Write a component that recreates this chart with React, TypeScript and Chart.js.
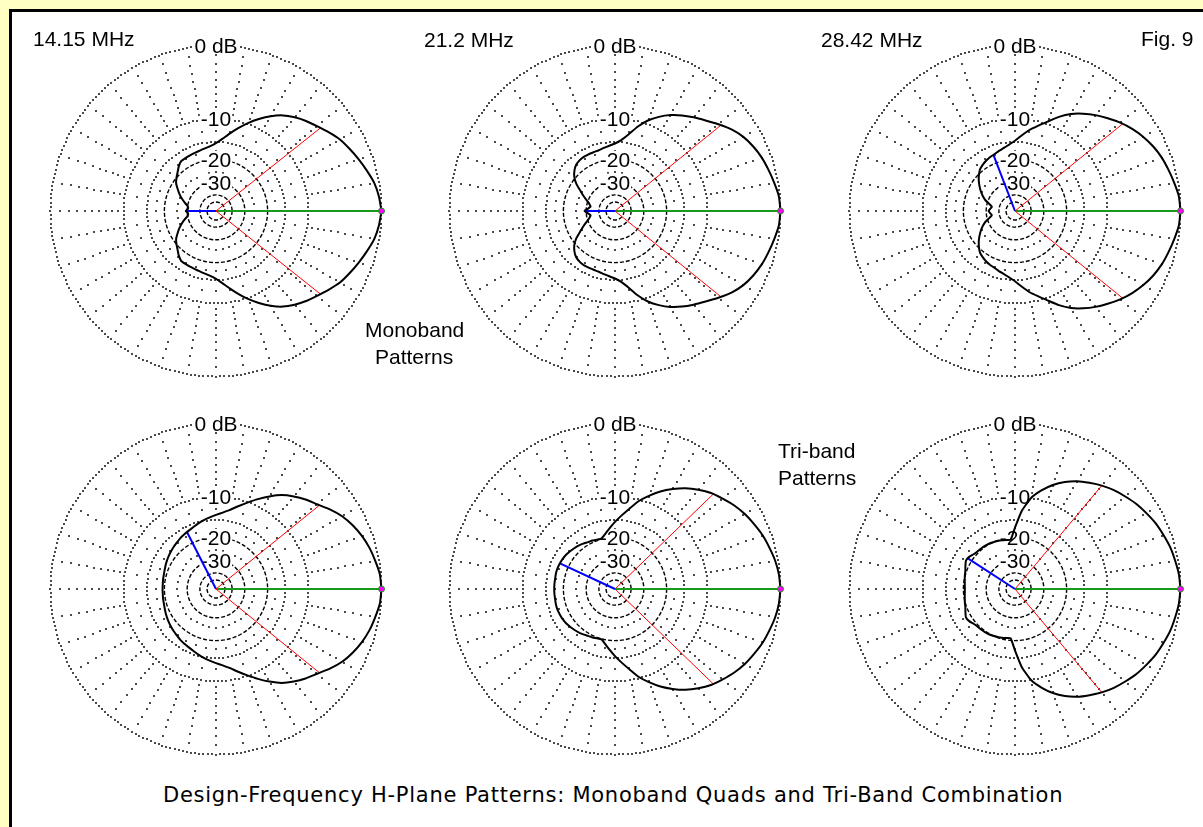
import React, { useEffect, useRef } from "react";
import { Chart, registerables } from "chart.js";

Chart.register(...registerables);

// ---------- data ----------
const angleDeg = [0, 5, 10, 15, 20, 25, 30, 35, 40, 45, 50, 55, 60, 65, 70, 75, 80, 85, 90, 95, 100, 105, 110, 115, 120, 125, 130, 135, 140, 145, 150, 155, 160, 165, 170, 175, 180];

const mono1415Db = [0, -0.2, -0.5, -1.0, -1.5, -2.0, -2.5, -3.2, -3.9, -4.5, -5.2, -6.0, -7.1, -8.4, -9.8, -11.3, -12.8, -14.2, -15.3, -16.0, -16.4, -16.7, -16.9, -17.0, -17.1, -17.2, -18.0, -19.1, -20.0, -21.0, -22.6, -24.2, -26.0, -28.0, -30.0, -30.5, -29.2];
const mono212Db = [0, -0.1, -0.4, -0.7, -1.0, -1.4, -1.9, -2.6, -3.5, -4.4, -5.2, -6.0, -6.9, -8.0, -9.3, -11.0, -13.0, -14.5, -15.4, -15.9, -16.3, -16.6, -16.7, -16.7, -16.7, -16.9, -17.3, -18.2, -19.5, -21.6, -24.5, -27.0, -29.5, -31.5, -32.6, -31.0, -29.0];
const mono2842Db = [0, -0.1, -0.4, -0.7, -1.0, -1.4, -1.9, -2.5, -3.2, -4.0, -4.8, -5.7, -6.7, -8.0, -9.5, -10.8, -12.0, -13.4, -14.7, -15.6, -16.3, -16.8, -17.3, -17.6, -18.0, -18.5, -19.1, -20.2, -21.5, -23.0, -24.6, -26.4, -28.5, -31.5, -33.5, -32.5, -31.5];
const tri1415Db = [0, -0.1, -0.4, -0.7, -1.1, -1.6, -2.2, -3.0, -3.9, -4.6, -5.4, -6.3, -7.5, -8.8, -10.1, -11.3, -12.4, -13.2, -13.8, -14.3, -14.8, -15.3, -15.8, -16.2, -16.5, -16.8, -17.2, -17.5, -17.8, -18.1, -18.4, -18.7, -19.0, -19.2, -19.3, -19.4, -19.4];
const tri212Db = [0, -0.1, -0.3, -0.6, -0.9, -1.3, -1.7, -2.2, -2.8, -3.4, -4.2, -5.1, -6.2, -7.4, -8.8, -10.3, -12.2, -13.9, -15.5, -17.1, -18.6, -19.8, -19.7, -19.4, -19.2, -18.8, -18.4, -18.1, -17.8, -17.5, -17.3, -17.2, -17.1, -17.1, -17.2, -17.2, -17.2];
const tri2842Db = [0, -0.1, -0.3, -0.5, -0.8, -1.1, -1.5, -1.9, -2.4, -2.9, -3.5, -4.2, -4.9, -5.8, -6.9, -8.3, -10.0, -12.8, -17.0, -20.7, -20.6, -20.4, -20.2, -20.0, -19.8, -19.7, -19.6, -19.5, -19.2, -18.6, -18.4, -19.0, -19.6, -19.9, -20.2, -20.4, -20.5];

const patternDb = [mono1415Db, mono212Db, mono2842Db, tri1415Db, tri212Db, tri2842Db];
const beamAngleDeg = [38.5, 39, 39, 39, 44, 50];
const beamDb = [-3.7, -3.4, -3.0, -3.8, -3.2, -3.5];
const rearAngleDeg = [180, 180, 111, 117, 155, 147];
const rearDb = [-29.2, -29.0, -17.3, -16.4, -17.2, -18.4];

const frequencyTitles = ["14.15 MHz", "21.2 MHz", "28.42 MHz"];
const ringLabelText = ["0 dB", "-10", "-20", "-30"];
const ringLabelDb = [0, -10, -20, -30];
const dottedRingDb = [0, -10, -15];
const dashedRingDb = [-20, -30, -40, -50];
const spokeDotDb = [-1, -2, -3, -4, -5, -6, -7, -8, -9, -12.5, -17.5, -25];
const spokeAngleDeg = [0, 10, 20, 30, 40, 50, 60, 70, 80, 90, 100, 110, 120, 130, 140, 150, 160, 170, 180, 190, 200, 210, 220, 230, 240, 250, 260, 270, 280, 290, 300, 310, 320, 330, 340, 350];

// ---------- helpers ----------
const FONT = '"Liberation Sans", Arial, Helvetica, sans-serif';
const CAPTION_FONT = '"DejaVu Sans", Verdana, sans-serif';
const YELLOW = "#FFFFC4";
const CANVAS = 380;
const RING_PX = 170;
const SPAN = CANVAS / 2 / RING_PX;

// ARRL log scale: each 2 dB shrinks radius by 0.89
const arrlRadius = (db: number) => Math.pow(0.89, -db / 2);
const toXY = (deg: number, db: number) => {
  const r = arrlRadius(db);
  const a = (deg * Math.PI) / 180;
  return { x: r * Math.cos(a), y: r * Math.sin(a) };
};
function patternPoints(dbs: number[]) {
  const pts = angleDeg.map((a, i) => toXY(a, dbs[i]));
  for (let i = angleDeg.length - 2; i >= 0; i--) pts.push(toXY(360 - angleDeg[i], dbs[i]));
  return pts;
}

const gridPlugin = {
  id: "arrlGrid",
  beforeDatasetsDraw(chart: any) {
    const ctx: CanvasRenderingContext2D = chart.ctx;
    const xs = chart.scales.x;
    const ys = chart.scales.y;
    const cx = xs.getPixelForValue(0);
    const cy = ys.getPixelForValue(0);
    const R = xs.getPixelForValue(1) - cx;
    ctx.save();
    ctx.fillStyle = "#4a4a4a";
    const dot = (px: number, py: number) => ctx.fillRect(Math.round(px) - 1, Math.round(py) - 1, 2, 2);
    dottedRingDb.forEach((db) => {
      const r = arrlRadius(db) * R;
      const n = Math.round((2 * Math.PI * r) / 4.2);
      for (let k = 0; k < n; k++) {
        const a = (2 * Math.PI * k) / n;
        dot(cx + r * Math.cos(a), cy + r * Math.sin(a));
      }
    });
    spokeAngleDeg.forEach((deg) => {
      const a = (deg * Math.PI) / 180;
      spokeDotDb.forEach((db) => {
        const r = arrlRadius(db) * R;
        dot(cx + r * Math.cos(a), cy - r * Math.sin(a));
      });
    });
    ctx.strokeStyle = "#000";
    ctx.lineWidth = 1.4;
    ctx.setLineDash([4, 2]);
    dashedRingDb.forEach((db) => {
      const r = arrlRadius(db) * R;
      ctx.beginPath();
      ctx.arc(cx, cy, r, 0, Math.PI * 2);
      ctx.stroke();
    });
    ctx.setLineDash([]);
    ctx.font = `21px ${FONT}`;
    ctx.textAlign = "center";
    ctx.textBaseline = "alphabetic";
    ringLabelText.forEach((t, i) => {
      const yTop = cy - arrlRadius(ringLabelDb[i]) * R;
      const w = ctx.measureText(t).width;
      ctx.fillStyle = "#fff";
      ctx.fillRect(cx - w / 2 - 1, yTop - 8.5, w + 2, 17);
      ctx.fillStyle = "#000";
      ctx.fillText(t, cx, yTop + 7.5);
    });
    ctx.restore();
  },
};

function PolarPlot({ index, cx, cy }: { index: number; cx: number; cy: number }) {
  const ref = useRef<HTMLCanvasElement>(null);
  useEffect(() => {
    const origin = { x: 0, y: 0 };
    const line = (data: any[], color: string, width: number) => ({
      data,
      showLine: true,
      borderColor: color,
      borderWidth: width,
      pointRadius: 0,
      fill: false,
    });
    const chart = new Chart(ref.current as HTMLCanvasElement, {
      type: "scatter",
      data: {
        datasets: [
          {
            data: [toXY(0, 0)],
            showLine: false,
            pointRadius: 3,
            pointBackgroundColor: "#ff00ff",
            pointBorderColor: "#1a9a1a",
            pointBorderWidth: 1,
          },
          { ...line(patternPoints(patternDb[index]), "#000", 2), tension: 0.15 },
          line([origin, toXY(beamAngleDeg[index], beamDb[index])], "#ff0000", 1),
          line([origin, toXY(-beamAngleDeg[index], beamDb[index])], "#ff0000", 1),
          line([origin, toXY(rearAngleDeg[index], rearDb[index])], "#0000ff", 2),
          line([origin, toXY(0, 0)], "#1a9a1a", 2),
        ] as any,
      },
      options: {
        animation: false,
        responsive: false,
        maintainAspectRatio: false,
        events: [],
        layout: { padding: 0 },
        plugins: { legend: { display: false }, tooltip: { enabled: false } },
        scales: {
          x: { type: "linear", min: -SPAN, max: SPAN, display: false },
          y: { type: "linear", min: -SPAN, max: SPAN, display: false },
        },
      },
      plugins: [gridPlugin],
    });
    return () => chart.destroy();
  }, [index]);
  return (
    <canvas
      ref={ref}
      width={CANVAS}
      height={CANVAS}
      style={{ position: "absolute", left: cx - CANVAS / 2, top: cy - CANVAS / 2, width: CANVAS, height: CANVAS }}
    />
  );
}

const txt: React.CSSProperties = {
  position: "absolute",
  fontFamily: FONT,
  fontSize: 21,
  lineHeight: "21px",
  color: "#000",
  whiteSpace: "nowrap",
};

export default function App() {
  const cols = [216, 615, 1015];
  const rows = [211, 589];
  return (
    <div style={{ position: "fixed", left: 0, top: 0, width: 1203, height: 827, background: "#fff", overflow: "hidden" }}>
      <div style={{ position: "absolute", left: 0, top: 0, width: 9, height: 827, background: YELLOW }} />
      <div style={{ position: "absolute", left: 0, top: 0, width: 1203, height: 9, background: YELLOW }} />
      <div style={{ position: "absolute", left: 9, top: 9, width: 3, height: 818, background: "#000" }} />
      <div style={{ position: "absolute", left: 9, top: 9, width: 1194, height: 3, background: "#000" }} />
      {patternDb.map((_, i) => (
        <PolarPlot key={i} index={i} cx={cols[i % 3]} cy={rows[Math.floor(i / 3)]} />
      ))}
      <div style={{ ...txt, left: 33, top: 28 }}>{frequencyTitles[0]}</div>
      <div style={{ ...txt, left: 424, top: 29 }}>{frequencyTitles[1]}</div>
      <div style={{ ...txt, left: 821, top: 29 }}>{frequencyTitles[2]}</div>
      <div style={{ ...txt, left: 1141, top: 28 }}>Fig. 9</div>
      <div style={{ ...txt, left: 365, top: 319 }}>Monoband</div>
      <div style={{ ...txt, left: 375, top: 346 }}>Patterns</div>
      <div style={{ ...txt, left: 778, top: 440 }}>Tri-band</div>
      <div style={{ ...txt, left: 778, top: 467 }}>Patterns</div>
      <div style={{ ...txt, fontFamily: CAPTION_FONT, left: 163, top: 785, letterSpacing: "0.75px" }}>
        Design-Frequency H-Plane Patterns: Monoband Quads and Tri-Band Combination
      </div>
    </div>
  );
}
